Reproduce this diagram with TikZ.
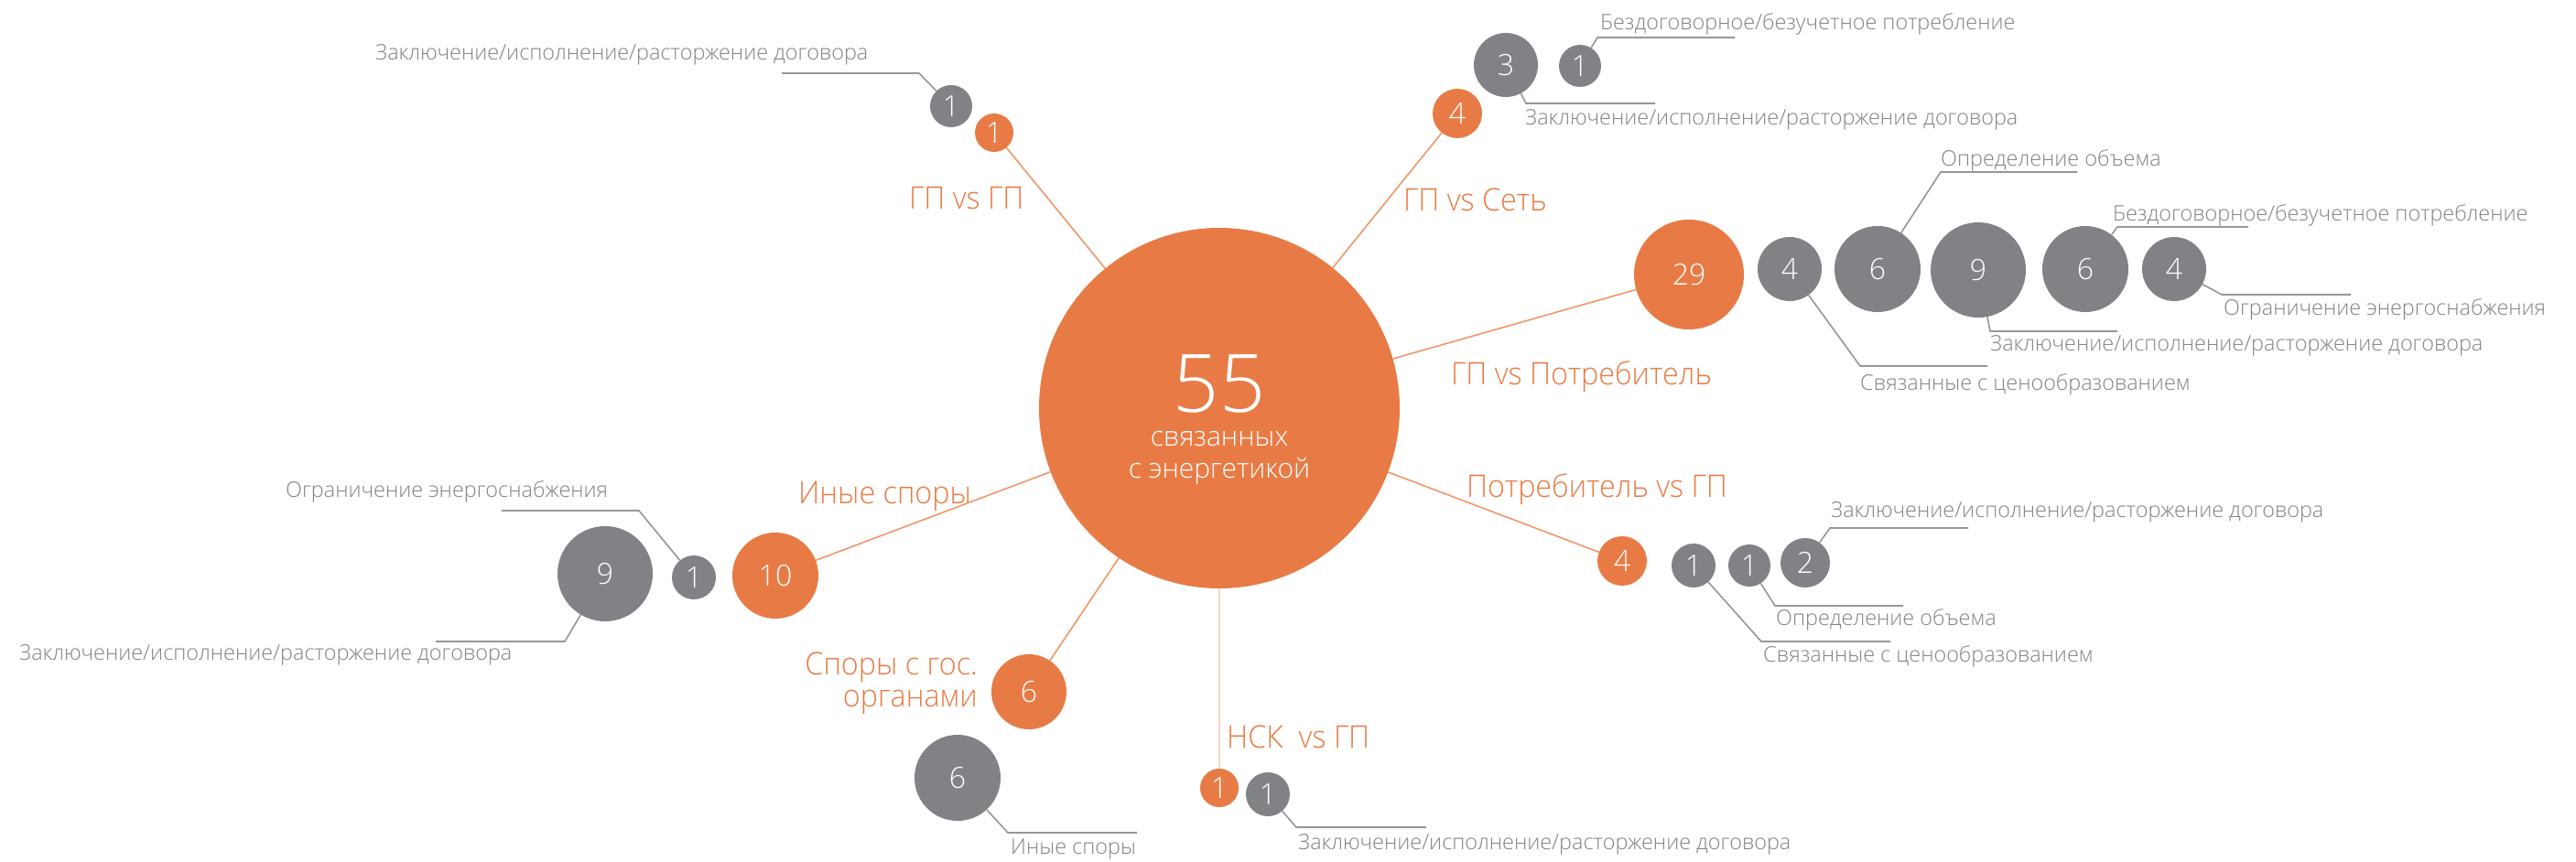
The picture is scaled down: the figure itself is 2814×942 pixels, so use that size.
\documentclass[tikz,border=0pt]{standalone}
\usepackage{fontspec}
\IfFontExistsTF{Open Sans Light}{%
  \setmainfont{Open Sans Light}%
  \newfontfamily\myNarrow{Open Sans Light}[FakeStretch=0.95]%
}{%
  \setmainfont{Open Sans}%
  \newfontfamily\myNarrow{Open Sans}[FakeStretch=0.9]%
}
\definecolor{orng}{RGB}{232,123,69}
\definecolor{lorng}{RGB}{240,150,105}
\definecolor{porng}{RGB}{248,215,198}
\definecolor{gry}{RGB}{128,130,133}
\definecolor{lgry}{RGB}{150,150,152}
\newcommand\myNfnt{\fontsize{32}{32}\selectfont}
\newcommand\myGfnt{\fontsize{23.4}{26}\selectfont}
\newcommand\myOfnt{\myNarrow\fontsize{34}{36}\selectfont}
\tikzset{
  mainc/.style={circle, fill=orng, inner sep=0pt, minimum size=394pt},
  oc/.style={circle, fill=orng, inner sep=0pt, text=white, font=\myNfnt, minimum size=#1},
  gc/.style={circle, fill=gry, inner sep=0pt, text=white, font=\myNfnt, minimum size=#1},
  conn/.style={draw=lorng, line width=1.6pt},
  pconn/.style={draw=porng, line width=1.6pt},
  lead/.style={draw=lgry, line width=1.6pt},
  glab/.style={text=gry, font=\myGfnt, inner sep=0pt},
  olab/.style={text=orng, font=\myOfnt, inner sep=0pt},
  mtxt/.style={anchor=base, text=white, inner sep=0pt},
}
\begin{document}
\begin{tikzpicture}[x=1pt,y=-1pt]
\useasboundingbox (0,0) rectangle (2814,942);
% main
\node[mainc] (M) at (1332,446) {};
\node[mtxt, font=\fontsize{88}{88}\selectfont, text depth=0pt] (m55) at (1332,450) {55};
\node[mtxt, font=\fontsize{30}{30}\selectfont] (m1) at (1332,487) {связанных};
\node[mtxt, font=\fontsize{30}{30}\selectfont] (m2) at (1332,522) {с энергетикой};

% A: GP vs GP
\node[oc=42pt] (oA) at (1086,145) {1};
\node[gc=46pt] (gA) at (1039,116) {1};
\coordinate (eA) at (1004,80); \coordinate (tA) at (854,80);
\draw[lead] (gA) -- (eA) -- (tA);
\node[glab, anchor=base west] (lA) at (410,66) {Заключение/исполнение/расторжение договора};
\node[olab, anchor=base west] (hA) at (993,228) {ГП vs ГП};
\draw[conn] (M) -- (oA);

% B: GP vs Set
\node[oc=54pt] (oB) at (1592,124) {4};
\node[gc=70pt] (gB3) at (1645,71) {3};
\node[gc=46pt] (gB1) at (1726,72) {1};
\coordinate (eB1) at (1745,41); \coordinate (tB1) at (1895,41);
\draw[lead] (gB1) -- (eB1) -- (tB1);
\node[glab, anchor=base west] (lB1) at (1748,33) {Бездоговорное/безучетное потребление};
\coordinate (eB3) at (1667,113); \coordinate (tB3) at (1808,113);
\draw[lead] (gB3) -- (eB3) -- (tB3);
\node[glab, anchor=base west] (lB3) at (1666,136) {Заключение/исполнение/расторжение договора};
\node[olab, anchor=base west] (hB) at (1533,230) {ГП vs Сеть};
\draw[conn] (M) -- (oB);

% C: GP vs Potrebitel
\node[oc=120pt] (oC) at (1845,300) {29};
\node[gc=70pt] (gC1) at (1955,294) {4};
\node[gc=94pt] (gC2) at (2051,294) {6};
\node[gc=104pt] (gC3) at (2161,295) {9};
\node[gc=94pt] (gC4) at (2278,294) {6};
\node[gc=70pt] (gC5) at (2375,294) {4};
\coordinate (eC2) at (2120,188); \coordinate (tC2) at (2269,188);
\draw[lead] (gC2) -- (eC2) -- (tC2);
\node[glab, anchor=base west] (lC2) at (2120,181) {Определение объема};
\coordinate (eC4) at (2313,248); \coordinate (tC4) at (2456,248);
\draw[lead] (gC4) -- (eC4) -- (tC4);
\node[glab, anchor=base west] (lC4) at (2308,241) {Бездоговорное/безучетное потребление};
\coordinate (eC5) at (2427,322); \coordinate (tC5) at (2568,322);
\draw[lead] (gC5) -- (eC5) -- (tC5);
\node[glab, anchor=base west] (lC5) at (2429,344) {Ограничение энергоснабжения};
\coordinate (eC3) at (2174,362); \coordinate (tC3) at (2313,362);
\draw[lead] (gC3) -- (eC3) -- (tC3);
\node[glab, anchor=base west] (lC3) at (2174,383) {Заключение/исполнение/расторжение договора};
\coordinate (eC1) at (2032,400); \coordinate (tC1) at (2171,400);
\draw[lead] (gC1) -- (eC1) -- (tC1);
\node[glab, anchor=base west] (lC1) at (2032,426) {Связанные с ценообразованием};
\node[olab, anchor=base west] (hC) at (1585,420) {ГП vs Потребитель};
\draw[conn] (M) -- (oC);

% D: Potrebitel vs GP
\node[oc=54pt] (oD) at (1772,613) {4};
\node[gc=48pt] (gD1) at (1850,618) {1};
\node[gc=46pt] (gD2) at (1911,618) {1};
\node[gc=54pt] (gD3) at (1972,615) {2};
\coordinate (eD3) at (1999,577); \coordinate (tD3) at (2150,577);
\draw[lead] (gD3) -- (eD3) -- (tD3);
\node[glab, anchor=base west] (lD3) at (2000,565) {Заключение/исполнение/расторжение договора};
\coordinate (eD2) at (1939,662); \coordinate (tD2) at (2079,662);
\draw[lead] (gD2) -- (eD2) -- (tD2);
\node[glab, anchor=base west] (lD2) at (1940,683) {Определение объема};
\coordinate (eD1) at (1924,701); \coordinate (tD1) at (2065,701);
\draw[lead] (gD1) -- (eD1) -- (tD1);
\node[glab, anchor=base west] (lD1) at (1926,723) {Связанные с ценообразованием};
\node[olab, anchor=base east] (hD) at (1887,543) {Потребитель vs ГП};
\draw[conn] (M) -- (oD);

% E: Inye spory
\node[oc=94pt] (oE) at (847,629) {10};
\node[gc=48pt] (gE1) at (758,631) {1};
\node[gc=104pt] (gE2) at (661,627) {9};
\coordinate (eE1) at (698,558); \coordinate (tE1) at (548,558);
\draw[lead] (gE1) -- (eE1) -- (tE1);
\node[glab, anchor=base west] (lE1) at (312,543) {Ограничение энергоснабжения};
\coordinate (eE2) at (617,701); \coordinate (tE2) at (476,701);
\draw[lead] (gE2) -- (eE2) -- (tE2);
\node[glab, anchor=base west] (lE2) at (21,721) {Заключение/исполнение/расторжение договора};
\node[olab, anchor=base west] (hE) at (872,550) {Иные споры};
\draw[conn] (M) -- (oE);

% F: Spory s gos. organami
\node[oc=82pt] (oF) at (1124,756) {6};
\node[gc=94pt] (gF) at (1046,850) {6};
\coordinate (eF) at (1101,910); \coordinate (tF) at (1242,910);
\draw[lead] (gF) -- (eF) -- (tF);
\node[glab, anchor=base west] (lF) at (1104,933) {Иные споры};
\node[olab, anchor=base east] (hF1) at (1068,737) {Споры с гос.};
\node[olab, anchor=base east] (hF2) at (1068,772) {органами};
\draw[conn] (M) -- (oF);

% G: NSK vs GP
\node[oc=42pt] (oG) at (1332,861) {1};
\node[gc=48pt] (gG) at (1385,868) {1};
\coordinate (eG) at (1416,904); \coordinate (tG) at (1558,904);
\draw[lead] (gG) -- (eG) -- (tG);
\node[glab, anchor=base west] (lG) at (1418,928) {Заключение/исполнение/расторжение договора};
\node[olab, anchor=base west] (hG) at (1340,817) {НСК\ \ vs ГП};
\draw[pconn] (M) -- (oG);
\end{tikzpicture}
\end{document}
